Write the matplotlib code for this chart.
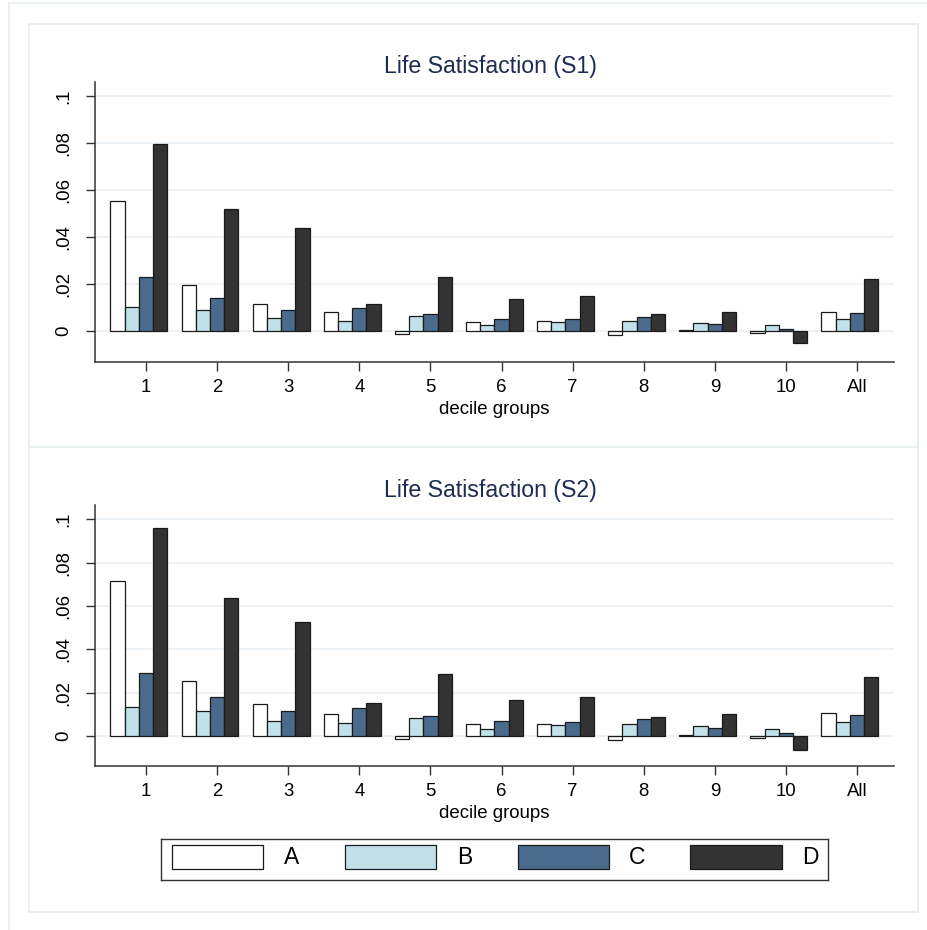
import matplotlib
matplotlib.use("Agg")
import matplotlib.pyplot as plt
from matplotlib.patches import Rectangle
from matplotlib.lines import Line2D
import numpy as np

plt.rcParams['font.family'] = ['Liberation Sans', 'DejaVu Sans']

# ---------------- data ----------------
groups = ["1", "2", "3", "4", "5", "6", "7", "8", "9", "10", "All"]
series = ["A", "B", "C", "D"]
colors = ["#ffffff", "#c0e1e9", "#4a6b8c", "#333333"]

s1_A = [0.0553, 0.0197, 0.0114, 0.0080, -0.0013, 0.0040, 0.0041, -0.0018, 0.0003, -0.0008, 0.0081]
s1_B = [0.0102, 0.0089, 0.0054, 0.0044, 0.0064, 0.0024, 0.0037, 0.0044, 0.0035, 0.0024, 0.0050]
s1_C = [0.0229, 0.0139, 0.0089, 0.0099, 0.0074, 0.0051, 0.0050, 0.0058, 0.0030, 0.0010, 0.0077]
s1_D = [0.0796, 0.0518, 0.0437, 0.0116, 0.0230, 0.0136, 0.0150, 0.0074, 0.0080, -0.0052, 0.0221]

s2_A = [0.0714, 0.0254, 0.0146, 0.0103, -0.0015, 0.0054, 0.0054, -0.0020, 0.0003, -0.0008, 0.0105]
s2_B = [0.0132, 0.0117, 0.0071, 0.0058, 0.0083, 0.0032, 0.0049, 0.0057, 0.0045, 0.0032, 0.0063]
s2_C = [0.0292, 0.0178, 0.0115, 0.0129, 0.0094, 0.0069, 0.0066, 0.0077, 0.0038, 0.0014, 0.0098]
s2_D = [0.0960, 0.0635, 0.0525, 0.0154, 0.0285, 0.0168, 0.0180, 0.0088, 0.0103, -0.0066, 0.0271]

yticks = [0, 0.02, 0.04, 0.06, 0.08, 0.1]
ytick_labels = ["0", ".02", ".04", ".06", ".08", ".1"]
titles = ["Life Satisfaction (S1)", "Life Satisfaction (S2)"]
xlabel = "decile groups"

# ---------------- layout ----------------
W, H = 928, 930
fig = plt.figure(figsize=(W / 100, H / 100), dpi=100)
fig.patch.set_facecolor("white")

def fx(px):
    return px / W

def fy(py):
    return 1 - py / H

frame_col = "#e4edf0"
# outer frame
fig.add_artist(Line2D([fx(9), fx(9)], [fy(3), fy(H + 5)], color=frame_col, lw=1.2))
fig.add_artist(Line2D([fx(9), fx(W + 5)], [fy(3), fy(3)], color=frame_col, lw=1.2))
# inner frame
fig.add_artist(Rectangle((fx(29), fy(912)), fx(918) - fx(29), fy(24) - fy(912),
                         fill=False, edgecolor=frame_col, lw=1.2))
fig.add_artist(Line2D([fx(29), fx(918)], [fy(447), fy(447)], color=frame_col, lw=1.2))

panels = [
    dict(top=82, bottom=362, ylim=(-0.01319, 0.10596), title_y=66,
         data=[s1_A, s1_B, s1_C, s1_D], title=titles[0]),
    dict(top=505, bottom=766, ylim=(-0.01384, 0.1066), title_y=490,
         data=[s2_A, s2_B, s2_C, s2_D], title=titles[1]),
]

x = np.arange(1, len(groups) + 1)
bw = 0.2
offsets = [-0.4, -0.2, 0.0, 0.2]
fs = 13.4

for p in panels:
    ax = fig.add_axes([fx(95), fy(p["bottom"]), fx(894) - fx(95), fy(p["top"]) - fy(p["bottom"])])
    ax.set_facecolor("white")
    ax.set_xlim(0.283, 11.52)
    ax.set_ylim(*p["ylim"])
    for vals, off, col in zip(p["data"], offsets, colors):
        ax.bar(x + off, vals, width=bw, color=col, edgecolor="#1a1a1a", linewidth=0.9, zorder=3)
    ax.set_yticks(yticks)
    ax.set_yticklabels(ytick_labels, rotation=90, va="center", fontsize=fs)
    ax.set_xticks(x)
    ax.set_xticklabels(groups, fontsize=fs)
    ax.yaxis.grid(True, color="#eaf1f4", lw=1.3, zorder=0)
    ax.set_axisbelow(True)
    for s in ["top", "right"]:
        ax.spines[s].set_visible(False)
    for s in ["left", "bottom"]:
        ax.spines[s].set_color("#333333")
        ax.spines[s].set_linewidth(1.1)
    ax.tick_params(axis="both", length=6.5, width=1.0, color="#333333")
    ax.tick_params(axis="x", pad=6)
    ax.tick_params(axis="y", pad=10)
    ax.set_xlabel(xlabel, fontsize=fs, labelpad=3)
    fig.text(fx(490), fy(p["title_y"]), p["title"], ha="center", va="center",
             fontsize=16.7, color="#1c2b50")

# ---------------- legend ----------------
lax = fig.add_axes([fx(161), fy(880), fx(828) - fx(161), fy(839) - fy(880)])
lax.set_xlim(0, 667)
lax.set_ylim(0, 41)
lax.set_xticks([])
lax.set_yticks([])
for s in lax.spines.values():
    s.set_color("#333333")
    s.set_linewidth(1.0)
for i, (name, col) in enumerate(zip(series, colors)):
    left = 10.5 + i * 173
    lax.add_patch(Rectangle((left, 11), 91.5, 24, facecolor=col, edgecolor="#1a1a1a", lw=0.9))
    lax.text(left + 120, 23, name, ha="center", va="center", fontsize=16.5)

fig.savefig("out.png", dpi=100, facecolor="white")
